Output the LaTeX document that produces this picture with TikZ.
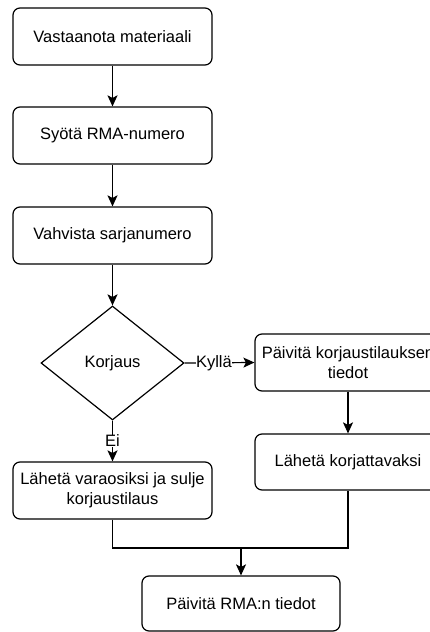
\documentclass[tikz,border=0pt]{standalone}
\usepackage{fontspec}
\setmainfont{Liberation Sans}
\usetikzlibrary{shapes.geometric,arrows.meta}
\begin{document}
\begin{tikzpicture}[x=1pt,y=-1pt,
  every node/.style={font=\fontsize{16.5}{20}\selectfont, text=black},
  proc/.style={draw, rounded corners=7pt, line width=1.2pt, minimum width=199pt,
    minimum height=57pt, inner sep=1pt, align=center},
  decision/.style={draw, diamond, line width=1.2pt, minimum width=143pt,
    minimum height=114pt, inner sep=0pt},
  lbl/.style={fill=white, inner sep=0.5pt},
  flow/.style={line width=1.2pt, -{Stealth[length=11pt,width=10pt,inset=2.5pt]}},
  link/.style={line width=1.2pt}]
\useasboundingbox (0,0) rectangle (430,632);
\fill[white] (0,0) rectangle (430,632);

\node[proc] (b1) at (112.5,36.5) {Vastaanota materiaali};
\node[proc] (b2) at (112.5,135.5) {Syötä RMA-numero};
\node[proc] (b3) at (112.5,235.5) {Vahvista sarjanumero};
\node[decision] (d) at (112.5,363) {};
\node at (d.center) {Korjaus};
\node[proc, minimum width=186pt] (b4) at (348,362.5) {Päivitä korjaustilauksen\\tiedot};
\node[proc, minimum width=186pt, minimum height=56pt] (b5) at (348,462) {Lähetä korjattavaksi};
\node[proc] (b6) at (112.5,490.5) {Lähetä varaosiksi ja sulje\\korjaustilaus};
\node[proc, minimum width=198pt, minimum height=55pt] (b7) at (241,603.5) {Päivitä RMA:n tiedot};

\coordinate (j) at (241,548);

\draw[flow] (b1) -- (b2);
\draw[flow] (b2) -- (b3);
\draw[flow] (b3) -- (d);
\draw[flow] (d.east) -- node[lbl, pos=0.42] (ky) {Kyllä} (b4.west);
\draw[flow] (d.south) -- node[lbl, pos=0.5] (ei) {Ei} (b6.north);
\draw[flow] (b4) -- (b5);
\draw[link] (b6.south) |- (j) -| (b5.south);
\draw[flow] (j) -- (b7.north);
\end{tikzpicture}
\end{document}
